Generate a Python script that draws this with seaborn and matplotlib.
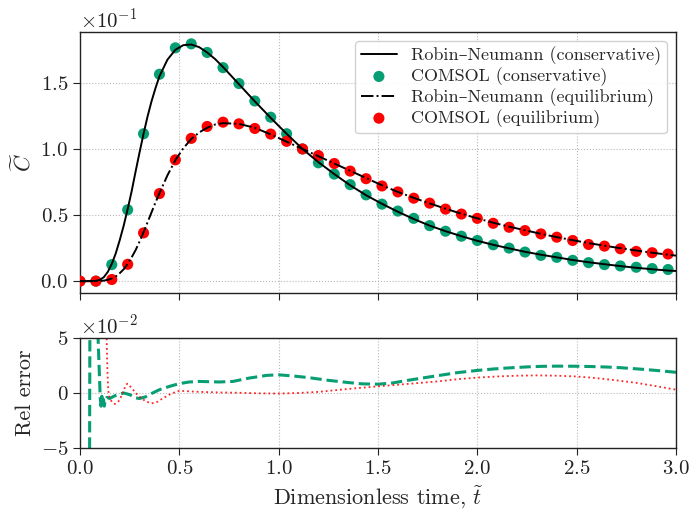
import numpy as np
import pandas as pd
import matplotlib
matplotlib.use("Agg")
import matplotlib.pyplot as plt
import seaborn as sns

# ---------------- data (concentrations in units of 1e-1, errors in units of 1e-2) -------------
t_pts = [0.00, 0.08, 0.16, 0.24, 0.32, 0.40, 0.48, 0.56, 0.64, 0.72,
         0.80, 0.88, 0.96, 1.04, 1.12, 1.20, 1.28, 1.36, 1.44, 1.52,
         1.60, 1.68, 1.76, 1.84, 1.92, 2.00, 2.08, 2.16, 2.24, 2.32,
         2.40, 2.48, 2.56, 2.64, 2.72, 2.80, 2.88, 2.96]
comsol_cons = [0.0, 0.0, 0.125, 0.54, 1.115, 1.565, 1.765, 1.795, 1.73, 1.615,
               1.495, 1.3625, 1.24, 1.115, 1.0, 0.895, 0.81, 0.73, 0.6525, 0.5825,
               0.53, 0.475, 0.42, 0.3775, 0.34, 0.3075, 0.275, 0.25, 0.22, 0.195,
               0.18, 0.1575, 0.14, 0.125, 0.115, 0.105, 0.095, 0.088]
comsol_eq = [0.0, 0.0, 0.0125, 0.1275, 0.365, 0.6625, 0.9175, 1.08, 1.17, 1.2025,
             1.19, 1.155, 1.1125, 1.0575, 1.0, 0.95, 0.89, 0.8325, 0.775, 0.72,
             0.675, 0.6275, 0.59, 0.545, 0.5075, 0.475, 0.4375, 0.4075, 0.3825, 0.3575,
             0.3325, 0.3075, 0.2775, 0.265, 0.245, 0.225, 0.215, 0.205]

t_line = [0.00, 0.04, 0.08, 0.10, 0.12, 0.14, 0.16, 0.18, 0.20, 0.22,
          0.24, 0.26, 0.28, 0.30, 0.32, 0.34, 0.36, 0.38, 0.40, 0.44,
          0.48, 0.52, 0.56, 0.60, 0.64, 0.68, 0.72, 0.80, 0.88, 0.96,
          1.04, 1.12, 1.20, 1.28, 1.36, 1.44, 1.52, 1.60, 1.68, 1.76,
          1.84, 1.92, 2.00, 2.08, 2.16, 2.24, 2.32, 2.40, 2.48, 2.56,
          2.64, 2.72, 2.80, 2.88, 2.96, 3.00]
rn_cons = [0.0, 0.0, 0.002, 0.01, 0.03, 0.07, 0.13, 0.21, 0.31, 0.42,
           0.545, 0.68, 0.83, 0.975, 1.115, 1.245, 1.36, 1.46, 1.55, 1.675,
           1.75, 1.785, 1.79, 1.77, 1.73, 1.68, 1.62, 1.49, 1.36, 1.235,
           1.115, 1.0, 0.9, 0.81, 0.725, 0.65, 0.585, 0.525, 0.47, 0.42,
           0.378, 0.34, 0.305, 0.275, 0.248, 0.222, 0.2, 0.18, 0.16, 0.143,
           0.128, 0.114, 0.101, 0.09, 0.08, 0.077]
rn_eq = [0.0, 0.0, 0.0, 0.001, 0.004, 0.01, 0.02, 0.035, 0.06, 0.09,
         0.13, 0.18, 0.235, 0.30, 0.37, 0.445, 0.52, 0.595, 0.665, 0.80,
         0.915, 1.005, 1.075, 1.125, 1.16, 1.185, 1.195, 1.19, 1.16, 1.11,
         1.055, 1.0, 0.945, 0.89, 0.835, 0.78, 0.725, 0.675, 0.63, 0.588,
         0.548, 0.51, 0.475, 0.442, 0.412, 0.385, 0.358, 0.333, 0.31, 0.288,
         0.268, 0.249, 0.232, 0.215, 0.2, 0.193]

t_err_cons = [0.048, 0.050, 0.085, 0.092, 0.097, 0.102, 0.106, 0.110, 0.114, 0.118,
              0.122, 0.128, 0.135, 0.15, 0.17, 0.19, 0.22, 0.25, 0.28, 0.30,
              0.33, 0.36, 0.40, 0.45, 0.50, 0.55, 0.60, 0.70, 0.77, 0.85,
              0.94, 1.00, 1.07, 1.15, 1.25, 1.35, 1.42, 1.50, 1.57, 1.64,
              1.72, 1.81, 1.90, 2.00, 2.08, 2.15, 2.25, 2.32, 2.40, 2.50,
              2.58, 2.65, 2.72, 2.82, 2.90, 3.00]
err_cons = [-8.0, 8.0, 8.0, 4.5, 2.0, -0.5, -1.2, -0.3, -1.0, -0.5,
            -1.2, -0.6, -0.4, -0.5, -0.3, -0.15, 0.0, -0.15, -0.45, -0.5,
            -0.35, -0.05, 0.3, 0.6, 0.85, 1.0, 1.05, 1.0, 1.05, 1.35,
            1.6, 1.65, 1.55, 1.4, 1.15, 0.95, 0.83, 0.8, 0.9, 1.12,
            1.35, 1.6, 1.85, 2.05, 2.18, 2.27, 2.37, 2.42, 2.44, 2.43,
            2.4, 2.36, 2.3, 2.17, 2.05, 1.88]

t_err_eq = [0.130, 0.134, 0.138, 0.142, 0.148, 0.16, 0.175, 0.19, 0.20, 0.215,
            0.228, 0.238, 0.25, 0.265, 0.28, 0.30, 0.33, 0.36, 0.39, 0.42,
            0.46, 0.50, 0.55, 0.60, 0.70, 0.80, 0.90, 1.00, 1.10, 1.20,
            1.30, 1.40, 1.50, 1.60, 1.70, 1.80, 1.90, 2.00, 2.10, 2.20,
            2.30, 2.40, 2.50, 2.60, 2.70, 2.80, 2.90, 3.00]
err_eq = [8.0, 5.0, 2.0, 0.3, -0.4, -0.8, -1.0, -0.85, -0.6, 0.0,
          0.6, 0.85, 0.65, 0.35, 0.0, -0.35, -0.75, -0.95, -0.8, -0.45,
          -0.05, 0.2, 0.15, 0.1, 0.05, 0.02, -0.03, -0.05, 0.0, 0.1,
          0.28, 0.45, 0.6, 0.75, 0.9, 1.05, 1.25, 1.4, 1.5, 1.57,
          1.6, 1.57, 1.5, 1.35, 1.15, 0.92, 0.62, 0.3]

C_SCALE = 1e-1
E_SCALE = 1e-2

# ---------------- style ----------------
sns.set_style("ticks")
plt.rcParams.update({
    "font.family": ["cmr10", "DejaVu Serif"],
    "mathtext.fontset": "cm",
    "axes.formatter.use_mathtext": True,
    "axes.unicode_minus": True,
    "axes.edgecolor": "#222222",
    "axes.linewidth": 1.0,
    "xtick.direction": "out",
    "ytick.direction": "out",
    "xtick.color": "#222222",
    "ytick.color": "#222222",
    "xtick.labelcolor": "#222222",
    "ytick.labelcolor": "#222222",
    "xtick.labelsize": 15,
    "ytick.labelsize": 15,
})

GREEN = "#079e73"
RED = "#ff0000"

fig = plt.figure(figsize=(6.89, 5.11), dpi=100)
ax1 = fig.add_axes([0.1161, 0.4266, 0.865, 0.5108])
ax2 = fig.add_axes([0.1161, 0.1233, 0.865, 0.2153], sharex=ax1)

df_line = pd.DataFrame({"t": t_line,
                        "cons": np.array(rn_cons) * C_SCALE,
                        "eq": np.array(rn_eq) * C_SCALE})
df_pts = pd.DataFrame({"t": t_pts,
                       "cons": np.array(comsol_cons) * C_SCALE,
                       "eq": np.array(comsol_eq) * C_SCALE})

sns.lineplot(data=df_line, x="t", y="cons", ax=ax1, color="black", lw=1.4,
             label="Robin–Neumann (conservative)", zorder=4, estimator=None, sort=False)
sns.scatterplot(data=df_pts, x="t", y="cons", ax=ax1, color=GREEN, s=64,
                edgecolor="none", label="COMSOL (conservative)", zorder=2)
sns.lineplot(data=df_line, x="t", y="eq", ax=ax1, color="black", lw=1.4,
             linestyle="-.", label="Robin–Neumann (equilibrium)", zorder=4,
             estimator=None, sort=False)
sns.scatterplot(data=df_pts, x="t", y="eq", ax=ax1, color=RED, s=64,
                edgecolor="none", label="COMSOL (equilibrium)", zorder=3)

ax1.set_xlim(0, 3)
ax1.set_yticks([0.0, 0.05, 0.10, 0.15])
ax1.ticklabel_format(axis="y", style="sci", scilimits=(0, 0), useMathText=True)
ax1.yaxis.get_offset_text().set_fontsize(15)
ax1.set_xlabel("")
ax1.set_ylabel(r"$\widetilde{C}$", fontsize=16)
ax1.grid(True, linestyle=":", color="#b8b8b8", lw=0.8)
ax1.tick_params(axis="x", labelbottom=False, length=5)
ax1.tick_params(axis="y", length=5)
leg = ax1.legend(loc="upper right", fontsize=13, frameon=True, fancybox=True,
                 edgecolor="#cccccc", framealpha=0.9, handlelength=2.0,
                 borderpad=0.3, labelspacing=0.12, handletextpad=0.8,
                 markerscale=1.0)
for sp in ax1.spines.values():
    sp.set_visible(True)

df_ec = pd.DataFrame({"t": t_err_cons, "e": np.array(err_cons) * E_SCALE})
df_ee = pd.DataFrame({"t": t_err_eq, "e": np.array(err_eq) * E_SCALE})
sns.lineplot(data=df_ec, x="t", y="e", ax=ax2, color=GREEN, lw=2.2,
             linestyle="--", estimator=None, sort=False)
sns.lineplot(data=df_ee, x="t", y="e", ax=ax2, color=RED, lw=1.3,
             linestyle=":", estimator=None, sort=False, alpha=0.85)

ax2.set_xlim(0, 3)
ax2.set_ylim(-0.05, 0.05)
ax2.set_yticks([-0.05, 0.0, 0.05])
ax2.set_xticks([0.0, 0.5, 1.0, 1.5, 2.0, 2.5, 3.0])
ax2.ticklabel_format(axis="y", style="sci", scilimits=(0, 0), useMathText=True)
ax2.yaxis.get_offset_text().set_fontsize(15)
ax2.grid(True, linestyle=":", color="#b8b8b8", lw=0.8)
ax2.tick_params(length=5)
ax2.set_xlabel(r"Dimensionless time, $\widetilde{t}$", fontsize=16)
ax2.set_ylabel("Rel error", fontsize=16)
for sp in ax2.spines.values():
    sp.set_visible(True)

fig.align_ylabels([ax1, ax2])
fig.savefig("out.png", dpi=100)
